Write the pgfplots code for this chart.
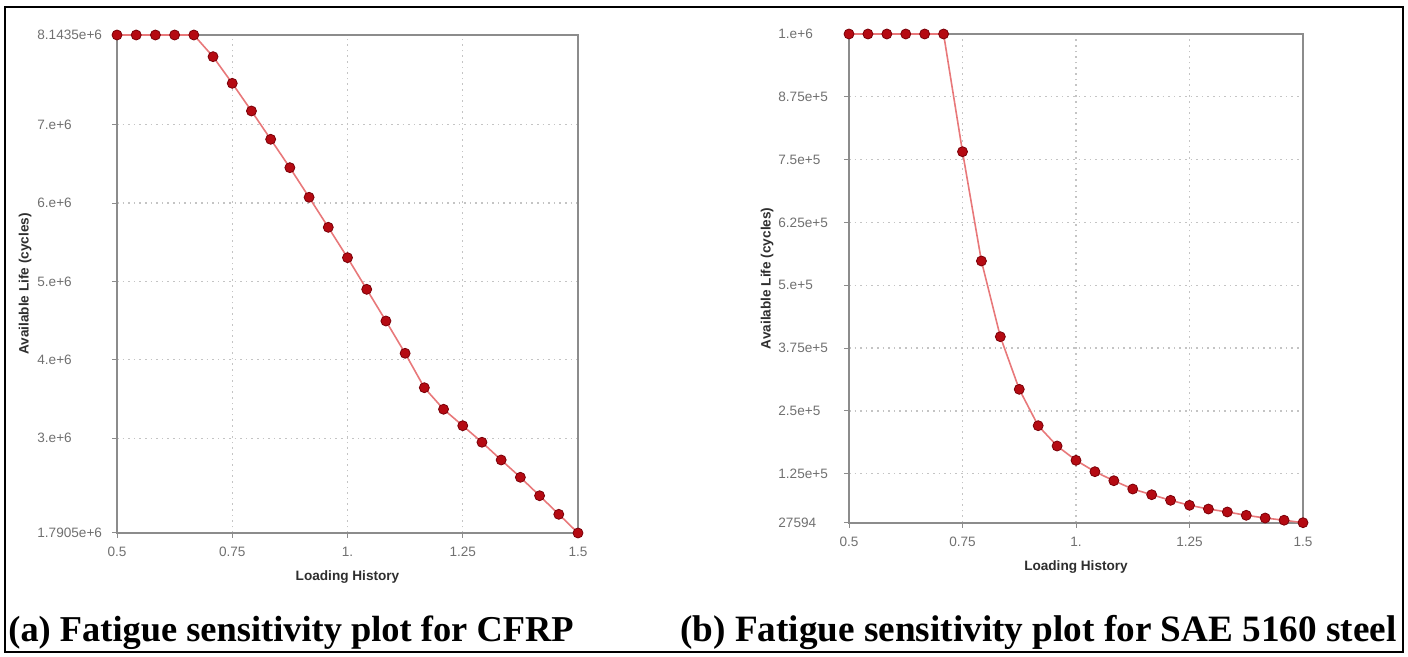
\documentclass[border=0pt]{standalone}
\usepackage{fontspec}
\setmainfont{Liberation Serif}
\newfontfamily\sans{Liberation Sans}
\usepackage{pgfplots}
\usepackage{pgfplotstable}
\pgfplotsset{compat=1.18}

\definecolor{axgray}{HTML}{8C8C8C}
\definecolor{gridgray}{HTML}{C4C4C4}
\definecolor{ptred}{HTML}{B50A12}
\definecolor{ptedge}{HTML}{7A0008}
\definecolor{linered}{HTML}{E8787A}
\definecolor{tickgray}{HTML}{707070}
\definecolor{labgray}{HTML}{2E2E2E}

% loading history steps of 1/24
\pgfplotstableread{
x         y
0.5       8143500
0.541667  8143500
0.583333  8143500
0.625     8143500
0.666667  8143500
0.708333  7867000
0.75      7527000
0.791667  7174000
0.833333  6813000
0.875     6451000
0.916667  6073000
0.958333  5690000
1.0       5303000
1.041667  4899000
1.083333  4495000
1.125     4083000
1.166667  3644000
1.208333  3369000
1.25      3159000
1.291667  2948000
1.333333  2722000
1.375     2501000
1.416667  2266000
1.458333  2029000
1.5       1790500
}\cfrp

\pgfplotstableread{
x         y
0.5       1000000
0.541667  1000000
0.583333  1000000
0.625     1000000
0.666667  1000000
0.708333  1000000
0.75      765800
0.791667  548300
0.833333  397700
0.875     293000
0.916667  220600
0.958333  180200
1.0       151700
1.041667  129100
1.083333  111100
1.125     94600
1.166667  83300
1.208333  72100
1.25      62200
1.291667  54800
1.333333  48900
1.375     42300
1.416667  36900
1.458333  32500
1.5       27594
}\steel

\pgfplotsset{
  fatigue/.style={
    scale only axis, clip=false,
    scaled y ticks=false,
    axis line style={axgray, line width=0.9pt},
    tick align=outside, major tick length=2.5pt,
    every tick/.style={axgray, line width=0.5pt},
    xtick pos=left, ytick pos=left,
    grid=major,
    major grid style={gridgray, line width=0.6pt, dash pattern=on 0.8pt off 2pt},
    xmin=0.5, xmax=1.5,
    xtick={0.5,0.75,1,1.25,1.5},
    xticklabels={0.5,0.75,1.,1.25,1.5},
    ticklabel style={font=\sans\fontsize{6.8}{7.5}\selectfont, text=tickgray},
    label style={font=\sans\bfseries\fontsize{6.8}{8}\selectfont, text=labgray},
    xlabel={Loading History},
    ylabel={Available Life (cycles)},
    xticklabel style={yshift=-1.2pt},
  },
  fatline/.style={linered, line width=0.8pt, mark=*, mark size=2.5pt,
    mark options={fill=ptred, draw=ptedge, line width=0.4pt}},
}

\begin{document}
\begin{tikzpicture}
\path[use as bounding box] (0pt,0pt) rectangle (704pt,328.5pt);
\draw[black, line width=1.4pt] (2.5pt,2.5pt) rectangle (701.5pt,325pt);

\begin{axis}[fatigue,
    at={(58.5pt,62pt)}, anchor=south west,
    width=230.5pt, height=249pt,
    ymin=1790500, ymax=8143500,
    ytick={1790500,3000000,4000000,5000000,6000000,7000000,8143500},
    yticklabels={1.7905e+6,3.e+6,4.e+6,5.e+6,6.e+6,7.e+6,8.1435e+6},
    yticklabel style={anchor=west, inner sep=0pt, xshift=-37.5pt},
    xlabel style={at={(axis description cs:0.5,-0.088)}, anchor=center},
    ylabel style={at={(axis description cs:-0.1996,0.5)}, anchor=center},
]
\addplot[fatline] table {\cfrp};
\end{axis}

\begin{axis}[fatigue,
    at={(424.5pt,67.15pt)}, anchor=south west,
    width=227pt, height=244.35pt,
    ymin=27594, ymax=1000000,
    ytick={27594,125000,250000,375000,500000,625000,750000,875000,1000000},
    yticklabels={27594,1.25e+5,2.5e+5,3.75e+5,5.e+5,6.25e+5,7.5e+5,8.75e+5,1.e+6},
    yticklabel style={anchor=west, inner sep=0pt, xshift=-33pt},
    xlabel style={at={(axis description cs:0.5,-0.0906)}, anchor=center},
    ylabel style={at={(axis description cs:-0.1806,0.5)}, anchor=center},
]
\addplot[fatline] table {\steel};
\end{axis}

\node[anchor=base west, inner sep=0pt, font=\bfseries\fontsize{18.2}{20}\selectfont] at (4pt,7.5pt)
  {(a) Fatigue sensitivity plot for CFRP};
\node[anchor=base west, inner sep=0pt, font=\bfseries\fontsize{18.6}{20}\selectfont] at (340pt,7.5pt)
  {(b) Fatigue sensitivity plot for SAE 5160 steel};
\end{tikzpicture}
\end{document}
